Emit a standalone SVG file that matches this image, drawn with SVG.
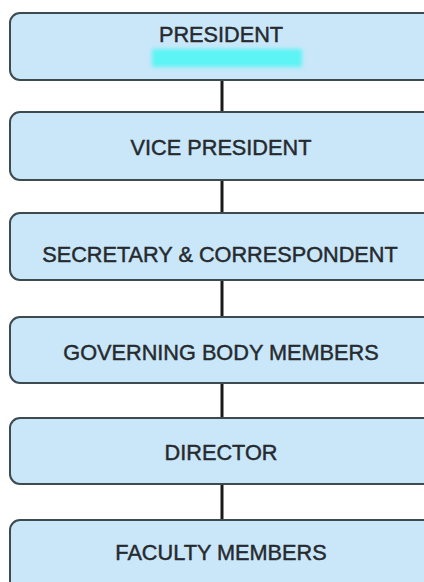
<svg xmlns="http://www.w3.org/2000/svg" width="424" height="582" viewBox="0 0 424 582">
<defs>
<style>
.box{fill:#c9e7f9;stroke:#3d4a50;stroke-width:2}
.lbl{font-family:"Liberation Sans",Arial,sans-serif;font-size:21.7px;fill:#262a2e;stroke:#262a2e;stroke-width:0.45;text-anchor:middle}
.conn{stroke:#1a1a1a;stroke-width:3;fill:none}
</style>
<filter id="blur" x="-20%" y="-50%" width="140%" height="200%"><feGaussianBlur stdDeviation="2"/></filter>
</defs>
<rect width="424" height="582" fill="#ffffff"/>
<g id="connectors">
<line class="conn" x1="222" y1="80" x2="222" y2="112"/>
<line class="conn" x1="222" y1="180" x2="222" y2="213"/>
<line class="conn" x1="222" y1="280" x2="222" y2="317"/>
<line class="conn" x1="222" y1="383" x2="222" y2="418"/>
<line class="conn" x1="222" y1="484" x2="222" y2="520"/>
</g>
<g id="president">
<rect class="box" x="10" y="13" width="430" height="67" rx="10"/>
<rect x="152" y="49" width="150" height="18" fill="#5cf4f4" filter="url(#blur)"/>
<text class="lbl" x="221" y="42">PRESIDENT</text>
</g>
<g id="vice-president">
<rect class="box" x="10" y="112" width="430" height="68" rx="10"/>
<text class="lbl" x="221" y="155">VICE PRESIDENT</text>
</g>
<g id="secretary">
<rect class="box" x="10" y="213" width="430" height="67" rx="10"/>
<text class="lbl" x="220" y="262">SECRETARY &amp; CORRESPONDENT</text>
</g>
<g id="governing-body">
<rect class="box" x="10" y="317" width="430" height="66" rx="10"/>
<text class="lbl" x="221" y="360">GOVERNING BODY MEMBERS</text>
</g>
<g id="director">
<rect class="box" x="10" y="418" width="430" height="66" rx="10"/>
<text class="lbl" x="221" y="460">DIRECTOR</text>
</g>
<g id="faculty">
<rect class="box" x="10" y="520" width="430" height="80" rx="10"/>
<text class="lbl" x="221" y="560">FACULTY MEMBERS</text>
</g>
</svg>
